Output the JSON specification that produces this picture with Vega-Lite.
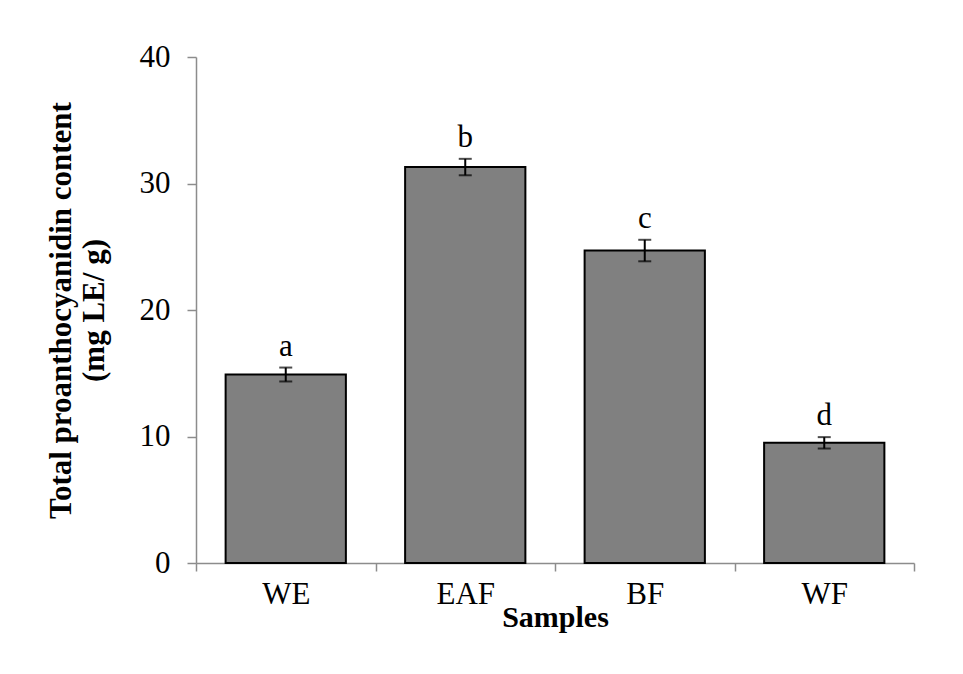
{
  "$schema": "https://vega.github.io/schema/vega-lite/v6.json",
  "width": 718,
  "height": 506,
  "autosize": {"type": "none"},
  "padding": {"left": 196, "top": 57, "right": 49, "bottom": 111},
  "background": "white",
  "data": {"values": [
    {"sample": "WE", "value": 14.9, "lo": 14.35, "hi": 15.45, "letter": "a"},
    {"sample": "EAF", "value": 31.3, "lo": 30.65, "hi": 31.95, "letter": "b"},
    {"sample": "BF", "value": 24.7, "lo": 23.85, "hi": 25.55, "letter": "c"},
    {"sample": "WF", "value": 9.5, "lo": 9.05, "hi": 9.95, "letter": "d"}
  ]},
  "config": {
    "view": {"stroke": null},
    "font": "Liberation Serif",
    "axis": {
      "labelFont": "Liberation Serif",
      "titleFont": "Liberation Serif",
      "labelColor": "black",
      "titleColor": "black",
      "domainColor": "#8c8c8c",
      "tickColor": "#8c8c8c",
      "domainWidth": 1.5,
      "tickWidth": 1.5,
      "grid": false
    }
  },
  "encoding": {
    "x": {
      "field": "sample",
      "type": "nominal",
      "sort": ["WE", "EAF", "BF", "WF"],
      "scale": {"paddingInner": 0, "paddingOuter": 0},
      "axis": {
        "title": "Samples",
        "labelAngle": 0,
        "labelFontSize": 31,
        "labelPadding": 8,
        "titleFontSize": 30,
        "titleFontWeight": "bold",
        "titlePadding": -7,
        "tickBand": "extent",
        "tickSize": 8
      }
    }
  },
  "layer": [
    {
      "mark": {"type": "bar", "fill": "#808080", "stroke": "black", "strokeWidth": 2, "width": {"band": 0.67}},
      "encoding": {
        "y": {
          "field": "value",
          "type": "quantitative",
          "scale": {"domain": [0, 40]},
          "axis": {
            "title": ["Total proanthocyanidin content", "(mg LE/ g)"],
            "values": [0, 10, 20, 30, 40],
            "labelFontSize": 31,
            "labelPadding": 17,
            "tickSize": 9,
            "titleFontSize": 31,
            "titleFontWeight": "bold",
            "titlePadding": 29,
            "titleLineHeight": 33
          }
        }
      }
    },
    {
      "mark": {"type": "rule", "color": "black", "strokeWidth": 2},
      "encoding": {
        "y": {"field": "lo", "type": "quantitative"},
        "y2": {"field": "hi"}
      }
    },
    {
      "mark": {"type": "tick", "color": "black", "size": 13, "thickness": 2},
      "encoding": {"y": {"field": "lo", "type": "quantitative"}}
    },
    {
      "mark": {"type": "tick", "color": "black", "size": 13, "thickness": 2},
      "encoding": {"y": {"field": "hi", "type": "quantitative"}}
    },
    {
      "mark": {"type": "text", "font": "Liberation Serif", "fontSize": 31, "baseline": "alphabetic", "dy": -12, "color": "black"},
      "encoding": {
        "y": {"field": "hi", "type": "quantitative"},
        "text": {"field": "letter"}
      }
    }
  ]
}
